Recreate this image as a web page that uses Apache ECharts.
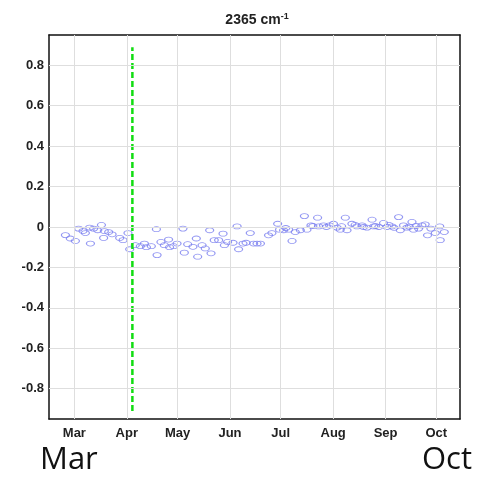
<!DOCTYPE html>
<html>
<head>
<meta charset="utf-8">
<script src="https://cdn.jsdelivr.net/npm/echarts@6/dist/echarts.min.js"></script>
<style>
  html, body { margin: 0; padding: 0; background: #fff; }
  #chart { width: 479px; height: 477px; }
</style>
</head>
<body>
<div id="chart"></div>
<script>
// x is day of year (Mar 1 = 60)
const monthDays = [60, 91, 121, 152, 182, 213, 244, 274]
const monthLabels = ['Mar', 'Apr', 'May', 'Jun', 'Jul', 'Aug', 'Sep', 'Oct']
const yTicks = [-0.8, -0.6, -0.4, -0.2, 0, 0.2, 0.4, 0.6, 0.8]

const obsDays = [
  54.7, 57.6, 60.6, 62.5, 65.1, 66.5, 69, 69.5, 71.4, 73.8, 76, 77.7, 77.3, 80.3, 82.3,
  86.8, 88.8, 91.7, 92.7, 96, 99, 101.4, 102.6, 105.5, 108.5, 108.9, 111.2, 113.2, 115.7,
  116.3, 118.7, 120.7, 124.2, 125, 127, 130.1, 132.1, 132.9, 135.5, 137.4, 140, 140.8,
  142.7, 145.3, 147.9, 148.7, 150.6, 153.8, 156.2, 157.1, 159.7, 161.5, 164, 166, 168,
  170, 174.8, 176.8, 180.2, 181.3, 183.7, 185, 186.7, 188.7, 190.6, 193.6, 196, 197.5,
  199.9, 201, 203.8, 204.4, 207.3, 209, 210.9, 213.2, 215.3, 217.2, 218, 220.2, 221.2,
  224.1, 226, 227.1, 230.1, 231, 233, 236, 237, 238, 240, 242.8, 244.8, 246, 247.8, 249,
  251.7, 252.7, 254.6, 256.6, 258, 259.6, 260.5, 262, 263.5, 265.5, 267.4, 268.8, 270.8,
  273.4, 276, 276.3, 278.7
]
const obsValues = [
  -0.04, -0.057, -0.069, -0.008, -0.02, -0.03, -0.003, -0.082, -0.008, -0.016, 0.01, -0.02, -0.054, -0.025, -0.036,
  -0.054, -0.065, -0.03, -0.11, -0.09, -0.095, -0.082, -0.1, -0.095, -0.011, -0.139, -0.074, -0.09, -0.062,
  -0.1, -0.095, -0.082, -0.008, -0.127, -0.085, -0.098, -0.057, -0.147, -0.09, -0.106, -0.016, -0.13,
  -0.065, -0.065, -0.033, -0.09, -0.074, -0.078, 0.003, -0.11, -0.082, -0.078, -0.03, -0.082, -0.082,
  -0.082, -0.041, -0.03, 0.016, -0.013, -0.016, -0.005, -0.013, -0.069, -0.025, -0.016, 0.054, -0.013,
  0.008, 0.005, 0.046, 0.003, 0.008, 0, 0.008, 0.016, -0.003, -0.013, 0.004, 0.046, -0.016,
  0.016, 0.01, 0.003, 0.008, 0, -0.003, 0.036, 0.003, 0.005, 0, 0.02, 0, 0.01, 0.003, -0.004,
  0.049, -0.016, 0.008, -0.003, 0.002, 0.025, -0.013, 0.005, -0.008, 0.008, 0.013, -0.041, -0.008,
  -0.03, 0.003, -0.065, -0.025
]

// green dashed marker line (early April)
const eventDay = 94.3
const eventRange = [-0.91, 0.89]

const chart = echarts.init(document.getElementById('chart'), null, { renderer: 'canvas' })

const boldFont = { color: '#222', fontSize: 13, fontWeight: 'bold', fontFamily: 'Liberation Sans, Arial, sans-serif' }
const ellipse = 'path://M0,5 A10,5 0 1,0 20,5 A10,5 0 1,0 0,5 Z'

function xAxisCfg(showLabels) {
  return {
    type: 'value', min: 45, max: 288,
    axisLine: { show: true, onZero: false, lineStyle: { color: '#111', width: 1.5 } },
    axisTick: { show: true, inside: true, length: 4, customValues: monthDays, lineStyle: { color: '#111' } },
    axisLabel: {
      show: showLabels, customValues: monthDays, margin: 8, ...boldFont,
      formatter: v => monthLabels[monthDays.indexOf(v)] || ''
    },
    splitLine: { show: false },
  }
}

function yAxisCfg(showLabels) {
  return {
    type: 'value', min: -0.95, max: 0.95,
    axisLine: { show: true, onZero: false, lineStyle: { color: '#111', width: 1.5 } },
    axisTick: { show: true, inside: true, length: 4, customValues: yTicks, lineStyle: { color: '#111' } },
    axisLabel: {
      show: showLabels, customValues: yTicks, margin: 5, ...boldFont,
      formatter: v => String(Math.round(v * 10) / 10)
    },
    splitLine: { show: false },
  }
}

const gridLineStyle = { color: '#dedede', width: 1, type: 'solid' }

chart.setOption({
  animation: false,
  title: {
    text: '2365 cm{sup|-1}',
    left: 252, top: 7, textAlign: 'center',
    textStyle: {
      ...boldFont, fontSize: 14,
      rich: { sup: { fontSize: 9, fontWeight: 'bold', color: '#222', verticalAlign: 'top', padding: [0, 0, 8, 0] } }
    },
  },
  grid: { left: 49, right: 19, top: 35, bottom: 58 },
  xAxis: [xAxisCfg(true), { ...xAxisCfg(false), position: 'top' }],
  yAxis: [yAxisCfg(true), { ...yAxisCfg(false), position: 'right' }],
  series: [
    {
      // grid lines at tick positions
      type: 'line', data: [], silent: true,
      markLine: {
        silent: true, symbol: 'none', label: { show: false },
        lineStyle: gridLineStyle,
        data: [
          ...monthDays.map(d => ({ xAxis: d })),
          ...yTicks.map(v => ({ yAxis: v })),
        ],
      },
    },
    {
      type: 'scatter',
      data: obsDays.map((d, i) => [d, obsValues[i]]),
      symbol: ellipse,
      symbolKeepAspect: false,
      symbolSize: [8, 5],
      itemStyle: { color: 'rgba(255,255,255,0)', borderColor: '#7f84f0', borderWidth: 1, opacity: 0.85 },
      z: 3,
    },
    {
      type: 'line',
      data: [[eventDay, eventRange[0]], [eventDay, eventRange[1]]],
      symbol: 'none',
      lineStyle: { color: '#11dd11', width: 2.5, type: [6, 3] },
      z: 4,
    },
  ],
  graphic: [
    { type: 'text', left: 40, top: 445, style: { text: 'Mar', font: '31px "Open Sans", sans-serif', fill: '#111' } },
    { type: 'text', right: 7, top: 445, style: { text: 'Oct', font: '31px "Open Sans", sans-serif', fill: '#111' } },
  ],
})
</script>
</body>
</html>
